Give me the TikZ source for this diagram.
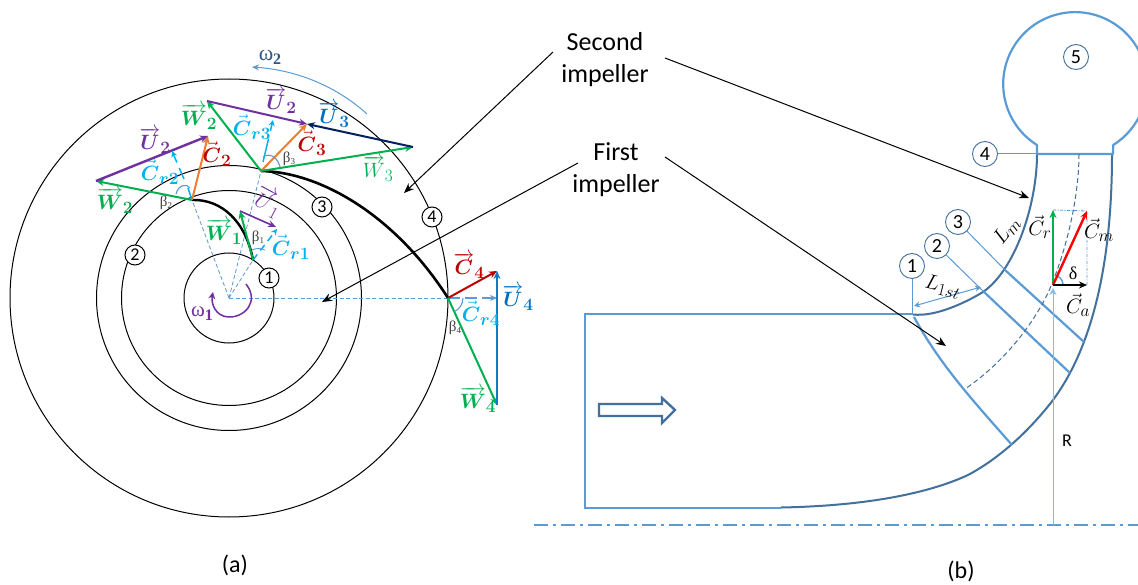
\documentclass[tikz,border=0pt]{standalone}
\usepackage{fontspec}
\usepackage{amsmath}
\setmainfont{Carlito}
\newfontfamily\sgreek{Liberation Serif}
\usetikzlibrary{arrows.meta,calc}
\DeclareMathSizes{20}{20}{16}{12}
\DeclareMathSizes{19.5}{19.5}{16}{12}
\definecolor{cgreen}{RGB}{0,176,80}
\definecolor{cpurple}{RGB}{112,48,160}
\definecolor{corange}{RGB}{237,125,49}
\definecolor{ccyan}{RGB}{0,176,240}
\definecolor{cred}{RGB}{192,0,0}
\definecolor{cblue}{RGB}{0,112,192}
\definecolor{cnavy}{RGB}{0,32,96}
\definecolor{lblue}{RGB}{91,155,213}
\definecolor{dblue}{RGB}{65,113,156}
\tikzset{x=1pt,y=-1pt,
 vec/.style={line width=2pt,-{Stealth[length=8pt,width=7pt]}},
 dashv/.style={line width=1.5pt,color=ccyan,-{Stealth[length=6pt,width=6pt]}},
 guide/.style={lblue,line width=.8pt,dash pattern=on 4pt off 2.5pt},
 ring/.style={draw=black,line width=1pt},
 call/.style={draw=black,-{Stealth[length=10pt,width=8pt]},line width=1pt},
 numa/.style={circle,draw=black,fill=white,line width=1pt,inner sep=0pt,minimum size=20pt,font=\fontsize{18}{18}\selectfont},
 numb/.style={circle,draw=dblue,fill=white,line width=.9pt,inner sep=0pt,minimum size=25pt,font=\fontsize{20}{20}\selectfont},
 lab/.style={font=\fontsize{26}{32}\selectfont,align=center},
 betal/.style={font=\fontsize{15}{15}\sgreek\selectfont,text=black!75},
 sym/.style={font=\fontsize{20}{20}\selectfont},
 symb/.style={font=\fontsize{19.5}{20}\selectfont},
 wall/.style={draw=dblue,line width=2pt},
 blade/.style={draw=lblue,line width=2.2pt},
 thinb/.style={draw=lblue,line width=1pt}}
\newcommand{\V}[2]{$\overrightarrow{\boldsymbol{#1}}_{\boldsymbol{#2}}$}
\newcommand{\Vn}[2]{$\overrightarrow{#1}_{#2}$}
\newcommand{\sV}[2]{$\vec{#1}_{#2}$}
\newcommand{\sB}[2]{$\vec{\boldsymbol{#1}}_{\boldsymbol{#2}}$}
\begin{document}
\begin{tikzpicture}
\useasboundingbox (0,0) rectangle (1138,585);
\fill[white] (0,0) rectangle (1138,585);
% ---- panel (a) ----
\coordinate (O) at (229,298);
\draw[ring] (O) circle (45);
\draw[ring] (O) circle (107.5);
\draw[ring] (O) circle (132.5);
\draw[ring] (O) circle (219);
\coordinate (p1) at (253,260);
\coordinate (p2) at (192,200);
\coordinate (p3) at (261,171);
\coordinate (p4) at (448,298);
% guides
\draw[guide] (O) -- (p1);
\draw[guide] (O) -- (p2);
\draw[guide] (O) -- (p3);
\draw[guide] (O) -- (p4);
% blades
\draw[black,line width=2.4pt] (p2) .. controls (222,199) and (246,222) .. (p1);
\draw[black,line width=2.6pt] (p3) .. controls (320,172) and (395,215) .. (p4);
% omega arcs
\draw[cpurple,line width=1.5pt,-{Stealth[length=7pt,width=7pt]}] (246,284) .. controls (260,302) and (244,318) .. (228,317) .. controls (215,316) and (211,303) .. (213,292);
\node[cpurple,font=\fontsize{21}{21}\sgreek\selectfont] (om1) at (202,314) {ω\raisebox{-4pt}{\fontsize{16}{16}\selectfont\textbf{1}}};
\coordinate (w2a) at (367,114);
\coordinate (w2b) at (252,67);
\draw[lblue,line width=1pt,-{Stealth[length=7pt,width=6pt]}] (w2a) .. controls (335,85) and (295,70) .. (w2b);
\node[dblue!70!cnavy,font=\fontsize{22}{22}\sgreek\selectfont] (om2) at (270,57) {ω\raisebox{-4pt}{\fontsize{16}{16}\selectfont\textbf{2}}};
% point 1 triangle
\coordinate (t1) at (240,211);
\coordinate (t1b) at (276,227);
\draw[dashv,dash pattern=on 7pt off 5pt] (p1) -- (277,229);
\draw[vec,cgreen] (p1) -- (t1);
\draw[vec,cpurple,line width=1.6pt] (t1) -- (t1b);
\draw[lblue,line width=.9pt] (252,250) .. controls (256,248) and (261,248) .. (265,250);
% point 2 triangle
\coordinate (t2) at (96,181);
\coordinate (t2b) at (208,136);
\draw[vec,cgreen] (p2) -- (t2);
\draw[vec,corange] (p2) -- (t2b);
\draw[vec,cpurple,line width=2.4pt] (t2) -- (t2b);
\coordinate (c2a) at (184,179);
\coordinate (c2b) at (172,151);
\draw[ccyan,line width=1.5pt,-{Stealth[length=6pt,width=6pt]},dash pattern=on 12pt off 6pt] (c2a) -- (c2b);
\draw[lblue,line width=1.1pt] (176,194) .. controls (178,185) and (187,183) .. (190,188);
\draw[ccyan,line width=1.5pt] (192,200) -- (188,188);
% point 3 triangle
\coordinate (t3) at (207,101);
\coordinate (t3b) at (307,124);
\coordinate (t3c) at (413,147);
\draw[vec,cgreen] (p3) -- (t3);
\draw[vec,corange] (p3) -- (t3b);
\draw[vec,cpurple] (t3) -- (t3b);
\draw[vec,cgreen] (p3) -- (t3c);
\draw[vec,cnavy] (t3c) -- (t3b);
\coordinate (c3a) at (263,162);
\coordinate (c3b) at (273,120);
\draw[ccyan,line width=1.5pt,-{Stealth[length=6pt,width=6pt]},dash pattern=on 24pt off 8pt] (c3a) -- (c3b);
\draw[lblue,line width=1.1pt] (263,157) .. controls (270,152) and (278,158) .. (280,167);
% point 4 triangle
\coordinate (t4) at (497,271);
\coordinate (t4b) at (497,405);
\coordinate (c4) at (497,298);
\draw[lblue,line width=1.5pt,dash pattern=on 12pt off 5pt,-{Stealth[length=7pt,width=6pt]}] (p4) -- (c4);
\draw[vec,cred] (p4) -- (t4);
\draw[vec,cgreen] (p4) -- (t4b);
\draw[vec,cblue!80!lblue,line width=2.4pt] (t4b) -- (t4);
\draw[lblue,line width=1.1pt] (463,298) arc (0:65:15);
% vector labels
\node[cgreen,sym] (lw1) at (224,232) {\V{W}{1}};
\node[cpurple,sym,rotate=-28] (lu1) at (268,202) {\Vn{U}{1}};
\node[ccyan,sym] (lc1) at (291,247) {\sB{C}{r1}};
\node[cgreen,sym] (lw2) at (115,201) {\V{W}{2}};
\node[cpurple,sym] (lu2) at (155,141) {\V{U}{2}};
\node[ccyan,sym] (lc2r) at (160,172) {\sB{C}{r2}};
\node[cred,sym] (lc2) at (217,154) {\sB{C}{2}};
\node[cgreen,sym] (lw2b) at (199,117) {\V{W}{2}};
\node[cpurple,sym] (lu2b) at (281,101) {\V{U}{2}};
\node[ccyan,sym] (lc3r) at (252,127) {\sB{C}{r3}};
\node[cred,sym] (lc3) at (312,143) {\sB{C}{3}};
\node[cblue,sym] (lu3) at (334,115) {\V{U}{3}};
\node[cgreen,sym] (lw3) at (378,169) {\Vn{W}{3}};
\node[cred,sym] (lc4) at (469,266) {\V{C}{4}};
\node[ccyan,sym] (lc4r) at (481,313) {\sB{C}{r4}};
\node[cblue,sym] (lu4) at (518,298) {\V{U}{4}};
\node[cgreen,sym] (lw4) at (478,400) {\V{W}{4}};
\node[betal] (b1) at (258,238) {β\raisebox{-2pt}{\small 1}};
\node[betal] (b2) at (166,203) {β\raisebox{-2pt}{\small 2}};
\node[betal] (b3) at (289,159) {β\raisebox{-2pt}{\small 3}};
\node[betal] (b4) at (455,328) {β\raisebox{-2pt}{\small 4}};
% circled numbers
\node[numa] (a1) at (269,278) {1};
\node[numa] (a2) at (135,255) {2};
\node[numa] (a3) at (322,207) {3};
\node[numa] (a4) at (432,217) {4};
% ---- panel (b) ----
\draw[draw=lblue,line width=2pt,dash pattern=on 14pt off 5pt on 3pt off 5pt] (534,525) -- (1138,525);
% inlet box
\draw[draw=lblue,line width=2pt] (913,314.5) -- (585,314.5) -- (585,507.5) -- (781,507.5);
% hub wall
\draw[wall] (781,507.5) .. controls (860,506) and (925,495) .. (968,475) .. controls (1000,458) and (1030,430) .. (1053,400) .. controls (1090,350) and (1112,270) .. (1112,154);
% shroud wall
\draw[wall] (913,314.5) .. controls (935,317) and (965,303) .. (983,292) .. controls (1015,270) and (1037,205) .. (1037,154);
% blades
\draw[blade] (914,317) .. controls (940,365) and (975,403) .. (1012,445);
\draw[blade] (984,292) -- (1070,373);
\draw[blade] (1005,270) -- (1084,342);
% volute
\draw[blade,line join=round] (1037,154) -- (1037,145) arc[start angle=122,end angle=418,radius=71.9] -- (1113,154) -- cycle;
% mean dashed line
\draw[draw=dblue,line width=1pt,dash pattern=on 5pt off 3pt] (1079,154) .. controls (1079,200) and (1065,255) .. (1048,293) .. controls (1030,330) and (1000,365) .. (965,389);
% numbered circles and leaders
\node[numb] (b1n) at (912,266) {1};
\node[numb] (b2n) at (937,246) {2};
\node[numb] (b3n) at (958,222) {3};
\node[numb] (b4n) at (985,154) {4};
\node[numb] (b5n) at (1076,57) {5};
\coordinate (l1) at (912,314);
\coordinate (l2) at (984,292);
\coordinate (l3) at (1005,270);
\coordinate (l4) at (1037,154);
\draw[thinb] (b1n) -- (l1);
\draw[thinb] (b2n) -- (l2);
\draw[thinb] (b3n) -- (l3);
\draw[thinb] (b4n) -- (l4);
% dimension
\coordinate (d1) at (914,306);
\coordinate (d2) at (981,287);
\draw[thinb,{Stealth[length=6pt,width=6pt]}-{Stealth[length=6pt,width=6pt]}] (d1) -- (d2);
\node[symb,rotate=-14] (l1st) at (943,287) {$L_{1st}$};
\node[symb,rotate=52] (lm) at (1007,231) {$L_m$};
% radius
\coordinate (Rb) at (1053,525);
\coordinate (V0) at (1053,285);
\draw[draw=lblue!70,line width=1pt,-{Stealth[length=7pt,width=7pt]}] (Rb) -- (1053,288);
\node[font=\fontsize{18}{18}\selectfont] (rl) at (1067,441) {R};
% velocity triangle
\coordinate (Vr) at (1053,210);
\coordinate (Vm) at (1087,211);
\coordinate (Va) at (1087,285);
\draw[lblue,line width=.9pt,dash pattern=on 3pt off 1.5pt on 1pt off 1.5pt] (Vr) -- (Vm) -- (Va);
\draw[lblue,line width=1.4pt] (1063,285) arc (0:-62:10);
\draw[vec,cgreen,line width=2.4pt] (V0) -- (Vr);
\draw[vec,red,line width=2.4pt] (V0) -- (Vm);
\draw[vec,black,line width=2.4pt] (V0) -- (Va);
\node[font=\fontsize{18}{18}\sgreek\selectfont] (dl) at (1073,273) {δ};
\node[symb] (lcr) at (1040,227) {\sV{C}{r}};
\node[symb] (lcm) at (1099,230) {\sV{C}{m}};
\node[symb] (lca) at (1078,305) {\sV{C}{a}};
% flow arrow
\draw[draw=dblue,fill=white,line width=2.4pt] (599,404) -- (662,404) -- (662,398) -- (675,410) -- (662,423) -- (662,416) -- (599,416) -- cycle;
% labels + callouts
\node[lab] (second) at (605,60) {Second\\impeller};
\node[lab] (first) at (616,170) {First\\impeller};
\node[font=\fontsize{24}{24}\selectfont] (capa) at (235,565) {(a)};
\node[font=\fontsize{24}{24}\selectfont] (capb) at (961,571) {(b)};
\coordinate (s1) at (404,193);
\coordinate (s2) at (1029,198);
\coordinate (f1) at (322,302);
\coordinate (f2) at (946,346);
\coordinate (s0) at (553,52);
\coordinate (s3) at (665,58);
\coordinate (f0) at (578,163);
\coordinate (f3) at (665,157);
\draw[call] (s0) -- (s1);
\draw[call] (s3) -- (s2);
\draw[call] (f0) -- (f1);
\draw[call] (f3) -- (f2);
\end{tikzpicture}
\end{document}
